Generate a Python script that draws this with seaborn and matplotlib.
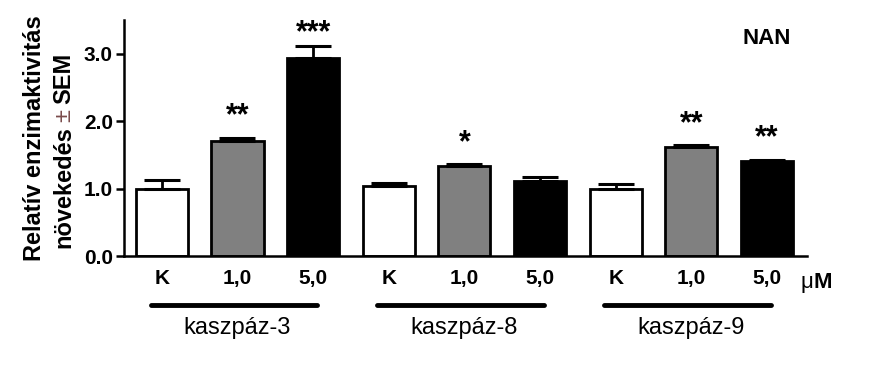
import pandas as pd
import seaborn as sns
import matplotlib.pyplot as plt
import matplotlib.transforms as mtransforms

# adatok (leolvasva az ábráról)
groups = ['kaszpáz-3', 'kaszpáz-8', 'kaszpáz-9']
doses = ['K', '1,0', '5,0']
values = [1.00, 1.71, 2.94, 1.04, 1.335, 1.12, 1.00, 1.62, 1.41]
sem = [0.13, 0.04, 0.17, 0.05, 0.025, 0.05, 0.07, 0.02, 0.02]
stars = ['', '**', '***', '', '*', '', '', '**', '**']
colors = {'K': 'white', '1,0': '#808080', '5,0': 'black'}

sns.set_style('ticks')
plt.rcParams['font.family'] = ['Liberation Sans', 'DejaVu Sans']
for key in ['text.color', 'axes.labelcolor', 'xtick.color', 'ytick.color', 'axes.edgecolor']:
    plt.rcParams[key] = 'black'

df = pd.DataFrame({
    'group': [g for g in groups for d in doses],
    'dose': doses * len(groups),
    'value': values,
})
df['bar'] = df['group'] + ' ' + df['dose']

fig, ax = plt.subplots(figsize=(8.71, 3.85), dpi=100)
fig.subplots_adjust(left=0.1424, right=0.9265, bottom=0.335, top=0.948)

sns.barplot(data=df, x='bar', y='value', hue='dose', order=list(df['bar']),
            palette=colors, dodge=False, width=0.69, edgecolor='black',
            linewidth=2, errorbar=None, legend=False, ax=ax)

# csak felfelé mutató SEM
ax.errorbar(range(len(values)), values, yerr=[[0] * len(sem), sem], fmt='none',
            ecolor='black', elinewidth=2, capsize=13, capthick=2.2, zorder=3)

for i, s in enumerate(stars):
    if s:
        y = min(values[i] + sem[i] + 0.2, 3.18)
        ax.text(i, y, s, ha='center', va='baseline', fontsize=22, fontweight='bold')

ax.set_ylim(0, 3.5)
ax.set_xlim(-0.5, 8.53)
ax.set_yticks([0, 1, 2, 3])
ax.set_yticklabels(['0.0', '1.0', '2.0', '3.0'], fontsize=15, fontweight='bold')
ax.set_xticks(range(len(values)))
ax.set_xticklabels(list(df['dose']), fontsize=15, fontweight='bold')
ax.tick_params(axis='x', length=0, pad=9)
ax.tick_params(axis='y', length=6, width=1.8, pad=2)
ax.set_xlabel('')
ax.set_ylabel('')
sns.despine(ax=ax)
for sp in ['left', 'bottom']:
    ax.spines[sp].set_linewidth(1.8)

# tengelyfelirat két sorban, a ± más színnel
ax.text(-0.131, 0.5, 'Relatív enzimaktivitás', transform=ax.transAxes, rotation=90,
        ha='center', va='center', fontsize=17, fontweight='bold')
pm = ax.text(-0.0878, 0.597, '±', transform=ax.transAxes, rotation=90,
             ha='center', va='center', fontsize=17, color='#7a4b4b')
ax.annotate('növekedés', xy=(0.5, 0), xycoords=pm, xytext=(0, -3), textcoords='offset points',
            rotation=90, ha='center', va='top', fontsize=17, fontweight='bold')
ax.annotate('SEM', xy=(0.5, 1), xycoords=pm, xytext=(0, 3), textcoords='offset points',
            rotation=90, ha='center', va='bottom', fontsize=17, fontweight='bold')

ax.text(8.0, 3.22, 'NAN', ha='center', va='center', fontsize=16, fontweight='bold')

trans = mtransforms.blended_transform_factory(ax.transData, ax.transAxes)
mu = ax.text(8.44, -0.114, 'μ', transform=trans, ha='left', va='center', fontsize=16)
ax.annotate('M', xy=(1, 0), xycoords=mu, ha='left', va='bottom', fontsize=16, fontweight='bold')

for k, g in enumerate(groups):
    x0 = k * len(doses)
    ax.plot([x0 - 0.15, x0 + 2.05], [-0.208, -0.208], transform=trans, color='black',
            linewidth=3.5, solid_capstyle='round', clip_on=False)
    ax.text(x0 + 1, -0.305, g, transform=trans, ha='center', va='center', fontsize=17)

plt.savefig('out.png', dpi=100)
